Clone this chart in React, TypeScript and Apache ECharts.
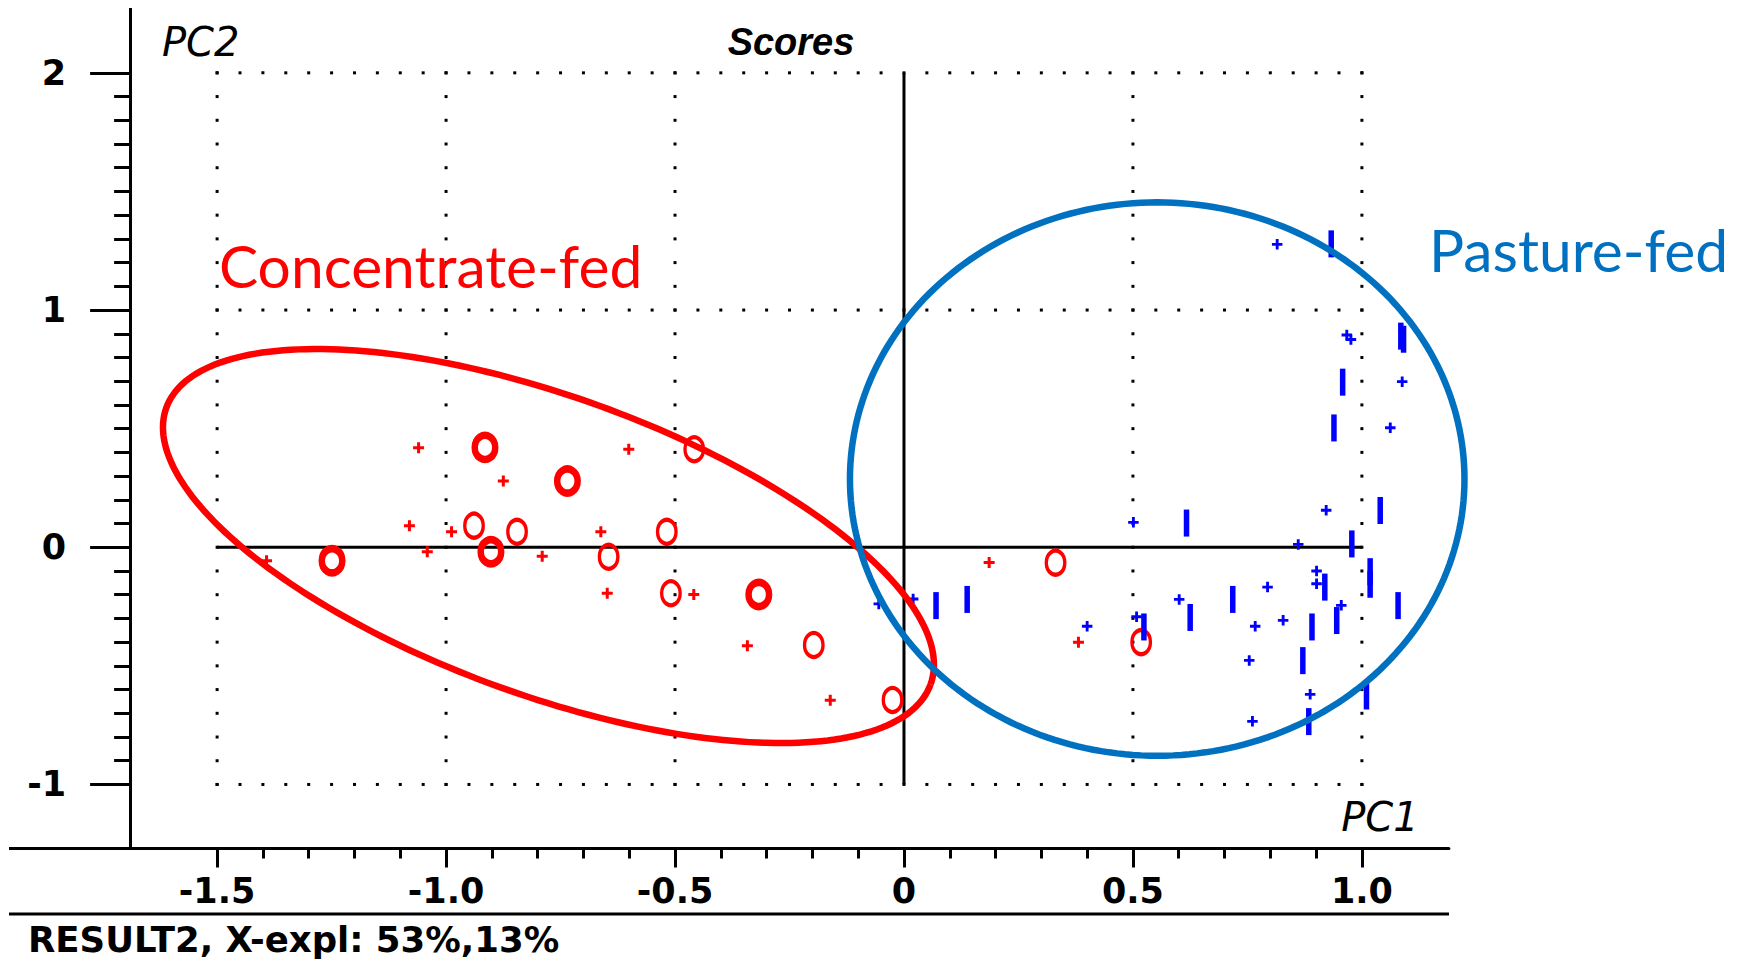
import React, { useEffect, useRef } from "react";
import * as echarts from "echarts";

// ---- data (PC1, PC2 scores) ----
const redZeroNormal: number[][] = [
  [-0.458, 0.413], [-0.939, 0.091], [-0.845, 0.065], [-0.518, 0.065], [-0.645, -0.040],
  [-0.509, -0.194], [-0.197, -0.412], [-0.025, -0.644], [0.331, -0.065], [0.518, -0.400],
];
const redZeroBold: number[][] = [
  [-0.915, 0.421], [-0.735, 0.279], [-0.902, -0.019], [-1.249, -0.057], [-0.317, -0.199],
];
const redPlus: number[][] = [
  [-1.060, 0.419], [-0.875, 0.279], [-0.601, 0.413], [-1.080, 0.091], [-0.988, 0.065],
  [-1.041, -0.019], [-0.790, -0.038], [-1.392, -0.057], [-0.662, 0.065], [-0.648, -0.194],
  [-0.459, -0.199], [-0.342, -0.415], [-0.161, -0.645], [0.186, -0.064], [0.381, -0.401],
];
const blueBar: number[][] = [
  [0.933, 1.279], [1.085, 0.890], [1.091, 0.877], [0.958, 0.696], [0.939, 0.503],
  [1.040, 0.155], [0.617, 0.102], [0.978, 0.014], [1.018, -0.103], [1.018, -0.156],
  [0.919, -0.168], [0.718, -0.220], [1.079, -0.246], [0.945, -0.309], [0.891, -0.336],
  [0.871, -0.478], [1.010, -0.627], [0.884, -0.735], [0.070, -0.246], [0.138, -0.220],
  [0.524, -0.336], [0.625, -0.296],
];
const bluePlus: number[][] = [
  [0.815, 1.277], [0.967, 0.895], [0.976, 0.876], [1.088, 0.698], [1.062, 0.504],
  [0.922, 0.156], [0.501, 0.105], [0.861, 0.012], [0.901, -0.100], [0.901, -0.154],
  [0.794, -0.168], [0.955, -0.245], [0.828, -0.308], [0.767, -0.333], [0.754, -0.477],
  [0.887, -0.620], [0.761, -0.734], [0.020, -0.218], [-0.055, -0.239], [0.400, -0.333],
  [0.508, -0.293], [0.601, -0.220],
];

// ellipses: [cx, cy, ax, ay, bx, by] (centre + two conjugate semi-axes, data units)
const redEllipse = [-0.7764, 0.0051, 0.8345, -0.5831, -0.1109, -0.5915];
const blueEllipse = [0.553, 0.2875, 0.671, 0, 0, 1.1665];

// axes
const xMin = -1.69, xMax = 1.19, yMin = -1.27, yMax = 2.27;
const xMajorTicks = [-1.5, -1.0, -0.5, 0, 0.5, 1.0];
const xMinorTicks = [-1.4, -1.3, -1.2, -1.1, -0.9, -0.8, -0.7, -0.6, -0.4, -0.3, -0.2, -0.1,
  0.1, 0.2, 0.3, 0.4, 0.6, 0.7, 0.8, 0.9];
const yMajorTicks = [-1, 0, 1, 2];
const yMinorTicks = [-0.9, -0.8, -0.7, -0.6, -0.5, -0.4, -0.3, -0.2, -0.1,
  0.1, 0.2, 0.3, 0.4, 0.5, 0.6, 0.7, 0.8, 0.9,
  1.1, 1.2, 1.3, 1.4, 1.5, 1.6, 1.7, 1.8, 1.9];
// dotted reference lines: [x1, y1, x2, y2, step]
const dottedLines: number[][] = [
  [-1.5, 2, 1.0, 2, 0.05], [-1.5, 1, 1.0, 1, 0.05], [-1.5, -1, 1.0, -1, 0.05],
  [-1.5, -1, -1.5, 2, 0.1], [-1.0, -1, -1.0, 2, 0.1], [-0.5, -1, -0.5, 2, 0.1],
  [0.5, -1, 0.5, 2, 0.1], [1.0, -1, 1.0, 2, 0.1],
];
const zeroLineV = [[0, -1], [0, 2]];
const zeroLineH = [[-1.5, 0], [1.0, 0]];

const title = "Scores";
const xName = "PC1";
const yName = "PC2";
const footer = "RESULT2, X-expl: 53%,13%";
const groupRed = "Concentrate-fed";
const groupBlue = "Pasture-fed";

const PLUS = "path://M4,0H7V4H11V7H7V11H4V7H0V4H4Z";
const RED = "#ff0000";
const BLUE = "#0000ff";
const ELL_BLUE = "#0070c0";
const LABEL_FONT = "DejaVu Sans";

export default function App() {
  const ref = useRef<HTMLDivElement>(null);
  useEffect(() => {
    if (!ref.current) return;
    const chart = echarts.init(ref.current, undefined, { renderer: "svg" });

    const ellipseRender = (color: string) => (params: any, api: any) => {
      const cx = api.value(0), cy = api.value(1), ax = api.value(2), ay = api.value(3), bx = api.value(4), by = api.value(5);
      const pts: number[][] = [];
      for (let i = 0; i <= 240; i++) {
        const t = (i / 240) * Math.PI * 2;
        pts.push(api.coord([cx + ax * Math.cos(t) + bx * Math.sin(t), cy + ay * Math.cos(t) + by * Math.sin(t)]));
      }
      return { type: "polyline", shape: { points: pts }, style: { fill: "none", stroke: color, lineWidth: 6.5 } };
    };

    const dotsRender = (params: any, api: any) => {
      const x1 = api.value(0), y1 = api.value(1), x2 = api.value(2), y2 = api.value(3), step = api.value(4);
      const len = Math.abs(x2 - x1) + Math.abs(y2 - y1);
      const n = Math.round(len / step);
      const children: any[] = [];
      for (let i = 0; i <= n; i++) {
        const f = i / n;
        const p = api.coord([x1 + (x2 - x1) * f, y1 + (y2 - y1) * f]);
        children.push({ type: "rect", shape: { x: p[0] - 1.5, y: p[1] - 1.5, width: 3, height: 3 }, style: { fill: "#000" } });
      }
      return { type: "group", children };
    };

    const option: any = {
      animation: false,
      backgroundColor: "#ffffff",
      grid: { left: 122.1, top: 0.8, width: 1318.8, height: 839.7, containLabel: false },
      xAxis: [
        {
          type: "value", min: xMin, max: xMax, position: "bottom",
          axisLine: { show: true, onZero: false, lineStyle: { color: "#000", width: 3 } },
          axisTick: { show: true, inside: false, length: 19, lineStyle: { color: "#000", width: 3 }, customValues: xMajorTicks },
          axisLabel: {
            show: true, customValues: xMajorTicks, margin: 25, color: "#000",
            fontFamily: LABEL_FONT, fontWeight: "bold", fontSize: 35,
            formatter: (v: number) => (Math.abs(v) < 1e-9 ? "0" : v.toFixed(1)),
          },
          splitLine: { show: false },
        },
        {
          type: "value", min: xMin, max: xMax, position: "bottom",
          axisLine: { show: false, onZero: false },
          axisTick: { show: true, inside: false, length: 10, lineStyle: { color: "#000", width: 3 }, customValues: xMinorTicks },
          axisLabel: { show: false },
          splitLine: { show: false },
        },
      ],
      yAxis: [
        {
          type: "value", min: yMin, max: yMax, position: "left",
          axisLine: { show: true, onZero: false, lineStyle: { color: "#000", width: 3 } },
          axisTick: { show: true, inside: false, length: 40, lineStyle: { color: "#000", width: 3 }, customValues: yMajorTicks },
          axisLabel: {
            show: true, customValues: yMajorTicks, margin: 64, color: "#000",
            fontFamily: LABEL_FONT, fontWeight: "bold", fontSize: 35,
            formatter: (v: number) => String(Math.round(v)),
          },
          splitLine: { show: false },
        },
        {
          type: "value", min: yMin, max: yMax, position: "left",
          axisLine: { show: false, onZero: false },
          axisTick: { show: true, inside: false, length: 16, lineStyle: { color: "#000", width: 3 }, customValues: yMinorTicks },
          axisLabel: { show: false },
          splitLine: { show: false },
        },
      ],
      series: [
        {
          type: "custom", name: "grid", data: dottedLines, renderItem: dotsRender, z: 1, silent: true,
          encode: { x: [0, 2], y: [1, 3] },
        },
        { type: "line", data: zeroLineV, symbol: "none", lineStyle: { color: "#000", width: 3 }, z: 1, silent: true },
        { type: "line", data: zeroLineH, symbol: "none", lineStyle: { color: "#000", width: 3 }, z: 1, silent: true },
        {
          type: "scatter", name: "red0", data: redZeroNormal, symbol: "circle", symbolSize: [18.5, 24],
          itemStyle: { color: "rgba(0,0,0,0)", borderColor: RED, borderWidth: 3.8, opacity: 1 }, z: 3,
        },
        {
          type: "scatter", name: "red0b", data: redZeroBold, symbol: "circle", symbolSize: [20.5, 24],
          itemStyle: { color: "rgba(0,0,0,0)", borderColor: RED, borderWidth: 7, opacity: 1 }, z: 3,
        },
        {
          type: "scatter", name: "red+", data: redPlus, symbol: PLUS, symbolSize: 11,
          itemStyle: { color: RED, opacity: 1 }, z: 3,
        },
        {
          type: "scatter", name: "blue|", data: blueBar, symbol: "rect", symbolSize: [5.5, 27],
          itemStyle: { color: BLUE, opacity: 1 }, z: 3,
        },
        {
          type: "scatter", name: "blue+", data: bluePlus, symbol: PLUS, symbolSize: 10.5,
          itemStyle: { color: BLUE, opacity: 1 }, z: 3,
        },
        { type: "custom", name: "ellRed", data: [redEllipse], renderItem: ellipseRender(RED), z: 4, silent: true },
        { type: "custom", name: "ellBlue", data: [blueEllipse], renderItem: ellipseRender(ELL_BLUE), z: 5, silent: true },
      ],
      graphic: [
        { type: "line", z: 10, shape: { x1: 1, y1: 840.5, x2: 123, y2: 840.5 }, style: { stroke: "#000", lineWidth: 3 } },
        { type: "line", z: 10, shape: { x1: 1, y1: 906, x2: 1441, y2: 906 }, style: { stroke: "#000", lineWidth: 3 } },
        {
          type: "text", z: 10, x: 154, y: 34,
          style: { text: yName, fill: "#000", fontFamily: LABEL_FONT, fontStyle: "italic", fontSize: 40, textAlign: "left", align: "left", textVerticalAlign: "middle", verticalAlign: "middle" },
        },
        {
          type: "text", z: 10, x: 783, y: 34,
          style: { text: title, fill: "#000", fontFamily: "Liberation Sans", fontStyle: "italic", fontWeight: "bold", fontSize: 38, textAlign: "center", align: "center", textVerticalAlign: "middle", verticalAlign: "middle" },
        },
        {
          type: "text", z: 10, x: 1372, y: 809,
          style: { text: xName, fill: "#000", fontFamily: LABEL_FONT, fontStyle: "italic", fontSize: 40, textAlign: "center", align: "center", textVerticalAlign: "middle", verticalAlign: "middle" },
        },
        {
          type: "text", z: 10, x: 20, y: 931,
          style: { text: footer, fill: "#000", fontFamily: LABEL_FONT, fontWeight: "bold", fontSize: 35.5, textAlign: "left", align: "left", textVerticalAlign: "middle", verticalAlign: "middle" },
        },
        {
          type: "text", z: 10, x: 211, y: 257,
          style: { text: groupRed, fill: RED, fontFamily: "Lato", fontSize: 58.7, textAlign: "left", align: "left", textVerticalAlign: "middle", verticalAlign: "middle" },
        },
        {
          type: "text", z: 10, x: 1421, y: 241,
          style: { text: groupBlue, fill: ELL_BLUE, fontFamily: "Lato", fontSize: 58.7, textAlign: "left", align: "left", textVerticalAlign: "middle", verticalAlign: "middle" },
        },
      ],
    };
    chart.setOption(option);
    return () => chart.dispose();
  }, []);
  return <div ref={ref} style={{ width: 1730, height: 953 }} />;
}
